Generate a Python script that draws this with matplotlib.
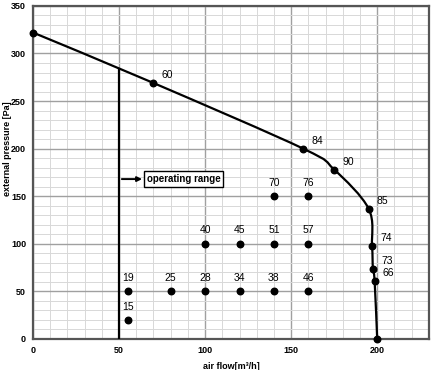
import numpy as np
import matplotlib; matplotlib.use("Agg")
import matplotlib.pyplot as plt
from matplotlib.path import Path
from matplotlib.patches import PathPatch

# fan curve (air flow m3/h, pressure Pa) with noise labels
curve_x = [0, 70, 157, 175, 195, 197, 197.5, 198.5, 200]
curve_y = [322, 269, 200, 178, 137, 98, 74, 61, 0]
curve_lbl = ["", "60", "84", "90", "85", "74", "73", "66", ""]

# operating points inside the range
pt_x = [55, 55, 80, 100, 120, 140, 160, 100, 120, 140, 160, 140, 160]
pt_y = [50, 20, 50, 50, 50, 50, 50, 100, 100, 100, 100, 150, 150]
pt_lbl = ["19", "15", "25", "28", "34", "38", "46", "40", "45", "51", "57", "70", "76"]

range_x = 50
range_top = 284

plt.rcParams["font.family"] = ["Liberation Sans", "DejaVu Sans"]

fig = plt.figure(figsize=(4.43, 3.70), dpi=100)
ax = fig.add_axes([0.0745, 0.084, 0.8935, 0.900])

ax.set_xlim(0, 230)
ax.set_ylim(0, 350)
ax.set_xticks(np.arange(0, 201, 50))
ax.set_yticks(np.arange(0, 351, 50))
ax.set_xticks(np.arange(0, 231, 10), minor=True)
ax.set_yticks(np.arange(0, 351, 10), minor=True)
ax.grid(which="major", color="#a0a0a0", lw=1.0)
ax.grid(which="minor", color="#d8d8d8", lw=0.7)
ax.set_axisbelow(True)
ax.tick_params(which="both", length=0)
ax.tick_params(labelsize=6.5, pad=5)
for lab in ax.get_xticklabels() + ax.get_yticklabels():
    lab.set_fontweight("bold")
for s in ax.spines.values():
    s.set_color("#555555")
    s.set_linewidth(1.6)

# smooth curve through the measured points (Catmull-Rom -> cubic bezier)
pts = ax.transData.transform(np.column_stack([curve_x, curve_y]))
verts = [tuple(pts[0])]
codes = [Path.MOVETO]
for i in range(len(pts) - 1):
    p0 = pts[max(i - 1, 0)]
    p1, p2 = pts[i], pts[i + 1]
    p3 = pts[min(i + 2, len(pts) - 1)]
    c1 = p1 + (p2 - p0) / 6
    c2 = p2 - (p3 - p1) / 6
    verts += [tuple(c1), tuple(c2), tuple(p2)]
    codes += [Path.CURVE4] * 3
verts = ax.transData.inverted().transform(verts)
ax.add_patch(PathPatch(Path(verts, codes), fill=False, color="black", lw=1.6, zorder=3))
ax.scatter(curve_x, curve_y, s=22, color="black", zorder=4, clip_on=False)
for x, y, t in zip(curve_x, curve_y, curve_lbl):
    if t:
        ax.annotate(t, (x, y), xytext=(6, 2), textcoords="offset points",
                    fontsize=7.5, ha="left", va="bottom")

ax.scatter(pt_x, pt_y, s=22, color="black", zorder=4)
for x, y, t in zip(pt_x, pt_y, pt_lbl):
    ax.annotate(t, (x, y), xytext=(0, 6), textcoords="offset points",
                fontsize=7.5, ha="center", va="bottom")

# operating range
ax.plot([range_x, range_x], [0, range_top], color="black", lw=1.6, zorder=3)
ax.annotate("", xy=(65, 168), xytext=(range_x, 168),
            arrowprops=dict(arrowstyle="-|>", color="black", lw=1.4, mutation_scale=7))
ax.text(66, 168, "operating range", fontsize=7, fontweight="bold", va="center", ha="left",
        bbox=dict(boxstyle="square,pad=0.3", fc="white", ec="black", lw=1.0), zorder=5)

ax.set_xlabel("air flow[m³/h]", fontsize=6.5, fontweight="bold", labelpad=5)
ax.set_ylabel("external pressure [Pa]", fontsize=6.5, fontweight="bold")
ax.yaxis.set_label_coords(-0.052, 0.57)

fig.savefig("out.png", dpi=100)
